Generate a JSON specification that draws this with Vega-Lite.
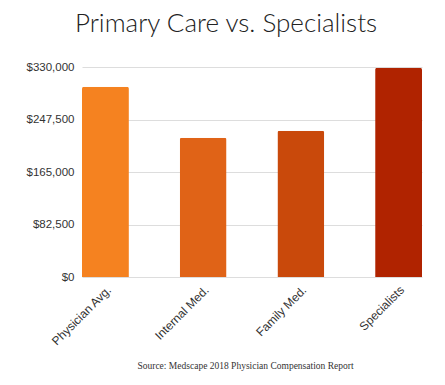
{
  "$schema": "https://vega.github.io/schema/vega-lite/v6.json",
  "autosize": "none",
  "width": 340,
  "height": 210,
  "padding": {"left": 82, "top": 67, "right": 23, "bottom": 108},
  "background": "white",
  "title": {
    "text": "Primary Care vs. Specialists",
    "font": "Lato",
    "fontSize": 26,
    "fontWeight": 300,
    "color": "#222222",
    "anchor": "middle",
    "dx": -26,
    "offset": 24
  },
  "data": {
    "values": [
      {"group": "Physician Avg.", "comp": 299000},
      {"group": "Internal Med.", "comp": 219000},
      {"group": "Family Med.", "comp": 230000},
      {"group": "Specialists", "comp": 329000}
    ]
  },
  "mark": {"type": "bar", "cornerRadiusTopLeft": 2, "cornerRadiusTopRight": 2},
  "encoding": {
    "x": {
      "field": "group",
      "type": "nominal",
      "sort": null,
      "scale": {"paddingInner": 0.52, "paddingOuter": 0},
      "axis": {
        "title": "Source: Medscape 2018 Physician Compensation Report",
        "titleFont": "Liberation Serif",
        "titleFontSize": 9.5,
        "titleFontWeight": "normal",
        "titleColor": "#333333",
        "titleX": 163,
        "titleY": 91,
        "titleAlign": "center",
        "titleBaseline": "alphabetic",
        "labelAngle": -45,
        "labelFont": "Liberation Sans",
        "labelFontSize": 12,
        "labelColor": "#333333",
        "labelPadding": 7,
        "ticks": false,
        "domain": false
      }
    },
    "y": {
      "field": "comp",
      "type": "quantitative",
      "scale": {"domain": [0, 330000], "nice": false},
      "axis": {
        "title": null,
        "values": [0, 82500, 165000, 247500, 330000],
        "format": "$,.0f",
        "labelFont": "Liberation Sans",
        "labelFontSize": 11.5,
        "labelColor": "#333333",
        "labelPadding": 8,
        "ticks": false,
        "domain": false,
        "gridColor": "#dddddd"
      }
    },
    "color": {
      "field": "group",
      "type": "nominal",
      "sort": null,
      "scale": {
        "domain": ["Physician Avg.", "Internal Med.", "Family Med.", "Specialists"],
        "range": ["#F58220", "#E06317", "#C9490B", "#B02300"]
      },
      "legend": null
    }
  },
  "config": {"view": {"stroke": null}}
}
